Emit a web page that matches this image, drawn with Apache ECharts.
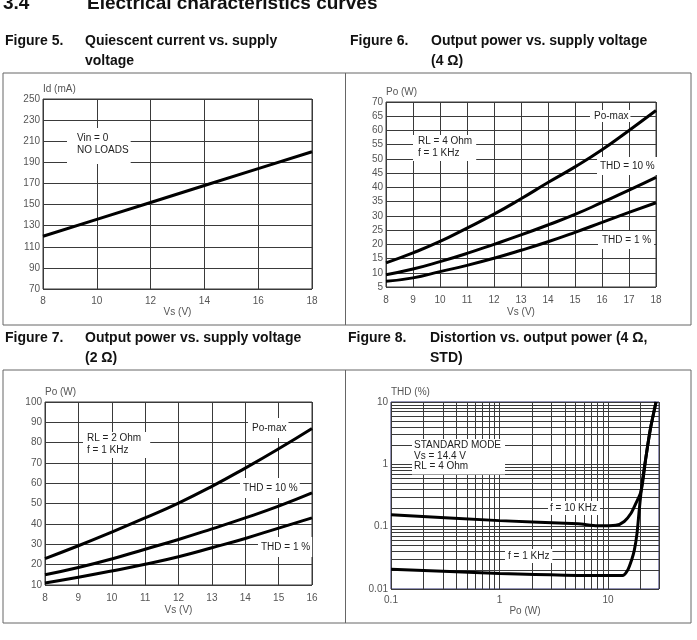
<!DOCTYPE html>
<html>
<head>
<meta charset="utf-8" />
<script src="https://cdn.jsdelivr.net/npm/echarts@6/dist/echarts.min.js"></script>
<style>
  body { margin: 0; background: #fff; }
  #main { width: 697px; height: 640px; }
</style>
</head>
<body>
<div id="main"></div>
<script>
// Figure 5 - quiescent current
var vs5 = [8, 10, 12, 14, 16, 18];
var id5 = [120, 136, 152, 168, 184, 200];

// Figure 6 - output power, 4 ohm
var vs6 = [8, 9, 10, 11, 12, 13, 14, 15, 16, 17, 18];
var pmax6 = [13.5, 17, 21, 25.7, 30.6, 36, 41.7, 47.2, 53.2, 60, 67];
var thd10_6 = [9.3, 11.3, 13.9, 16.8, 20, 23.3, 26.8, 30.5, 34.7, 39, 43.5];
var thd1_6 = [7, 8.2, 10.4, 12.6, 15.1, 17.9, 20.9, 24.2, 27.7, 31.2, 34.6];

// Figure 7 - output power, 2 ohm
var vs7 = [8, 9, 10, 11, 12, 13, 14, 15, 16];
var pmax7 = [23, 29.3, 36, 43, 50.3, 58.5, 67.5, 77, 87];
var thd10_7 = [15, 18.6, 22.8, 27.6, 32.4, 37.6, 43, 48.8, 55.3];
var thd1_7 = [11, 13.8, 16.9, 20.2, 23.9, 28.3, 32.9, 38, 43];

// Figure 8 - distortion vs output power (log/log)
var po8_1k = [0.1, 1, 10, 13.6, 15.2, 16.5, 17.5, 18.5, 19.4, 20.6, 22.4, 24.5, 27.7];
var thd8_1k = [0.0207, 0.0178, 0.0164, 0.0164, 0.0202, 0.0292, 0.0424, 0.0782, 0.186, 0.5, 1.33, 3.6, 10];
var po8_10k = [0.1, 1, 5.3, 8, 11.8, 14.1, 16.3, 18.1, 19.9, 20.8, 22.4, 24.5, 27.7];
var thd8_10k = [0.155, 0.125, 0.111, 0.103, 0.105, 0.121, 0.164, 0.238, 0.344, 0.5, 1.33, 3.6, 10];
var xMinor8 = [0.2, 0.3, 0.4, 0.5, 0.6, 0.7, 0.8, 0.9, 2, 3, 4, 5, 6, 7, 8, 9, 20];
var yMinor8 = [0.02, 0.03, 0.04, 0.05, 0.06, 0.07, 0.08, 0.09, 0.2, 0.3, 0.4, 0.5, 0.6, 0.7, 0.8, 0.9, 2, 3, 4, 5, 6, 7, 8, 9];

var FONT = 'Liberation Sans';
var gridColor = '#3a3a3a';
var lbl = { color: '#555', fontSize: 10, fontFamily: FONT };

function zip(xs, ys) {
  return xs.map(function (x, i) { return [x, ys[i]]; });
}

function xAx(gi, min, max, step, margin, name, gap) {
  return {
    gridIndex: gi, type: 'value', min: min, max: max, interval: step,
    axisLine: { show: false }, axisTick: { show: false },
    splitLine: { show: true, lineStyle: { color: gridColor, width: 1 } },
    axisLabel: Object.assign({ margin: margin }, lbl),
    name: name, nameLocation: 'middle', nameGap: gap, nameTextStyle: lbl
  };
}
function yAx(gi, min, max, step, name) {
  return {
    gridIndex: gi, type: 'value', min: min, max: max, interval: step,
    axisLine: { show: false }, axisTick: { show: false },
    splitLine: { show: true, lineStyle: { color: gridColor, width: 1 } },
    axisLabel: Object.assign({ margin: 3 }, lbl),
    name: name, nameLocation: 'end', nameGap: 4,
    nameTextStyle: Object.assign({ align: 'left' }, lbl)
  };
}
function decadeLabel(v) {
  var l = Math.log10(v);
  if (Math.abs(l - Math.round(l)) > 0.01) return '';
  return String(+Math.pow(10, Math.round(l)).toPrecision(1));
}
function curve(xi, xs, ys, sm) {
  return {
    type: 'line', xAxisIndex: xi, yAxisIndex: xi, data: zip(xs, ys),
    smooth: sm, symbol: 'none', z: 10, silent: true,
    lineStyle: { color: '#000', width: 3 }
  };
}

var gridBox = { show: true, borderColor: gridColor, borderWidth: 1 };

var option = {
  animation: false,
  grid: [
    Object.assign({ left: 43, top: 99, width: 269, height: 190 }, gridBox),
    Object.assign({ left: 386, top: 102, width: 270, height: 185 }, gridBox),
    Object.assign({ left: 45, top: 402, width: 267, height: 183 }, gridBox),
    Object.assign({ left: 391, top: 402, width: 268, height: 187 }, gridBox, { borderColor: '#26266e' })
  ],
  xAxis: [
    xAx(0, 8, 18, 2, 7, 'Vs (V)', 18),
    xAx(1, 8, 18, 1, 8, 'Vs (V)', 20),
    xAx(2, 8, 16, 1, 8, 'Vs (V)', 20),
    {
      gridIndex: 3, type: 'log', min: 0.1, max: 29.5,
      axisLine: { show: false }, axisTick: { show: false },
      splitLine: { show: true, lineStyle: { color: gridColor, width: 1 } },
      axisLabel: Object.assign({ margin: 6, formatter: decadeLabel }, lbl),
      name: 'Po (W)', nameLocation: 'middle', nameGap: 15, nameTextStyle: lbl
    }
  ],
  yAxis: [
    yAx(0, 70, 250, 20, 'Id (mA)'),
    yAx(1, 5, 70, 5, 'Po (W)'),
    yAx(2, 10, 100, 10, 'Po (W)'),
    {
      gridIndex: 3, type: 'log', min: 0.01, max: 10,
      axisLine: { show: false }, axisTick: { show: false },
      splitLine: { show: true, lineStyle: { color: gridColor, width: 1 } },
      axisLabel: Object.assign({ margin: 3, formatter: decadeLabel }, lbl),
      name: 'THD (%)', nameLocation: 'end', nameGap: 4,
      nameTextStyle: Object.assign({ align: 'left' }, lbl)
    }
  ],
  series: [
    curve(0, vs5, id5, false),
    curve(1, vs6, pmax6, true),
    curve(1, vs6, thd10_6, true),
    curve(1, vs6, thd1_6, true),
    curve(2, vs7, pmax7, true),
    curve(2, vs7, thd10_7, true),
    curve(2, vs7, thd1_7, true),
    curve(3, po8_1k, thd8_1k, 0.25),
    curve(3, po8_10k, thd8_10k, 0.25),
    {
      // minor log grid lines of figure 8
      type: 'line', xAxisIndex: 3, yAxisIndex: 3, data: [], z: 1, silent: true,
      markLine: {
        silent: true, symbol: 'none', animation: false,
        label: { show: false },
        lineStyle: { color: gridColor, width: 1, type: 'solid' },
        data: xMinor8.map(function (v) { return { xAxis: v }; })
          .concat(yMinor8.map(function (v) { return { yAxis: v }; }))
      }
    }
  ]
};

var chart = echarts.init(document.getElementById('main'), null, { renderer: 'canvas' });
chart.setOption(option);

// labels inside the plots: box top-left in data units
var notes = [
  { g: 0, at: [8.89, 222.5], text: 'Vin = 0\nNO LOADS', pad: [4, 2, 8, 10], lh: 12 },
  { g: 1, at: [9.0, 58.4], text: 'RL = 4 Ohm\nf = 1 KHz', pad: [0, 4, 2, 5], lh: 12 },
  { g: 1, at: [15.56, 67.2], text: 'Po-max', pad: [0, 2, 0, 4], lh: 12 },
  { g: 1, at: [15.81, 50.7], text: 'THD = 10 %', pad: [3, 3, 3, 3], lh: 12 },
  { g: 1, at: [15.85, 24.7], text: 'THD = 1 %', pad: [3, 3, 3, 4], lh: 12 },
  { g: 2, at: [9.14, 85.2], text: 'RL = 2 Ohm\nf = 1 KHz', pad: [0, 9, 2, 4], lh: 12 },
  { g: 2, at: [14.08, 92.1], text: 'Po-max', pad: [4, 2, 4, 4], lh: 12 },
  { g: 2, at: [13.84, 62.6], text: 'THD = 10 %', pad: [4, 2, 4, 3], lh: 12 },
  { g: 2, at: [14.38, 33.6], text: 'THD = 1 %', pad: [4, 2, 4, 3], lh: 12 },
  { g: 3, at: [0.156, 2.55], text: 'STANDARD MODE\nVs = 14.4 V\nRL = 4 Ohm', pad: [1, 4, 3, 2], lh: 10.5 },
  { g: 3, at: [2.77, 0.258], text: 'f = 10 KHz', pad: [1, 3, 1, 2], lh: 12 },
  { g: 3, at: [1.13, 0.0438], text: 'f = 1 KHz', pad: [1, 3, 1, 3], lh: 12 }
];

var capFont = 'bold 14px ' + FONT;
function txt(x, y, s, font, va) {
  return {
    type: 'text', x: x, y: y, z: 20,
    style: { text: s, font: font || capFont, fill: '#111', align: 'left', verticalAlign: va || 'middle' }
  };
}
function box(y, h) {
  return [
    { type: 'rect', z: 20, shape: { x: 3, y: y, width: 688, height: h },
      style: { fill: null, stroke: '#666', lineWidth: 1 } },
    { type: 'line', z: 20, shape: { x1: 345.5, y1: y, x2: 345.5, y2: y + h },
      style: { stroke: '#666', lineWidth: 1 } }
  ];
}

var graphic = [
  txt(3, 13, '3.4', 'bold 19px ' + FONT, 'bottom'),
  txt(87, 13, 'Electrical characteristics curves', 'bold 19px ' + FONT, 'bottom'),
  txt(5, 41, 'Figure 5.'), txt(85, 41, 'Quiescent current vs. supply'), txt(85, 61, 'voltage'),
  txt(350, 41, 'Figure 6.'), txt(431, 41, 'Output power vs. supply voltage'), txt(431, 61, '(4 \u03A9)'),
  txt(5, 338, 'Figure 7.'), txt(85, 338, 'Output power vs. supply voltage'), txt(85, 358, '(2 \u03A9)'),
  txt(348, 338, 'Figure 8.'), txt(430, 338, 'Distortion vs. output power (4 \u03A9,'), txt(430, 358, 'STD)')
].concat(box(73, 252), box(370, 253));

notes.forEach(function (n) {
  var p = chart.convertToPixel({ gridIndex: n.g }, n.at);
  graphic.push({
    type: 'text', x: Math.round(p[0]), y: Math.round(p[1]), z: 5,
    style: {
      text: n.text, font: '10px ' + FONT, fill: '#222', lineHeight: n.lh,
      align: 'left', verticalAlign: 'top', backgroundColor: '#fff', padding: n.pad
    }
  });
});

chart.setOption({ graphic: graphic });
</script>
</body>
</html>
